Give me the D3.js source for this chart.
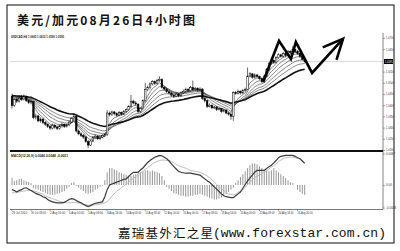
<!DOCTYPE html>
<html><head><meta charset="utf-8">
<script src="https://cdn.jsdelivr.net/npm/d3@7"></script>
<style>html,body{margin:0;padding:0;background:#fff;}svg{display:block;}</style>
</head><body>
<script>
// USD/CAD 4-hour bars: [open, high, low, close]
const candles = [
[1.0440,1.0452,1.0385,1.0398],[1.0398,1.0430,1.0392,1.0425],[1.0425,1.0436,1.0410,1.0418],[1.0418,1.0440,1.0412,1.0432],
[1.0432,1.0445,1.0420,1.0426],[1.0426,1.0448,1.0421,1.0438],[1.0438,1.0442,1.0414,1.0420],[1.0420,1.0428,1.0405,1.0412],
[1.0412,1.0425,1.0404,1.0416],[1.0416,1.0420,1.0338,1.0345],[1.0345,1.0362,1.0336,1.0352],[1.0352,1.0358,1.0324,1.0330],
[1.0330,1.0346,1.0322,1.0338],[1.0338,1.0342,1.0315,1.0322],[1.0322,1.0330,1.0308,1.0315],[1.0315,1.0320,1.0298,1.0305],
[1.0305,1.0312,1.0290,1.0298],[1.0298,1.0318,1.0292,1.0310],[1.0310,1.0315,1.0295,1.0302],[1.0302,1.0308,1.0288,1.0296],
[1.0296,1.0314,1.0290,1.0308],[1.0308,1.0322,1.0300,1.0315],[1.0315,1.0318,1.0298,1.0305],[1.0305,1.0318,1.0300,1.0312],
[1.0312,1.0330,1.0306,1.0325],[1.0325,1.0346,1.0320,1.0340],[1.0340,1.0358,1.0334,1.0350],[1.0350,1.0352,1.0278,1.0285],
[1.0285,1.0292,1.0266,1.0272],[1.0272,1.0280,1.0258,1.0265],[1.0265,1.0272,1.0250,1.0258],[1.0258,1.0262,1.0232,1.0238],
[1.0238,1.0244,1.0208,1.0222],[1.0222,1.0246,1.0218,1.0240],[1.0240,1.0260,1.0235,1.0255],[1.0255,1.0268,1.0248,1.0262],
[1.0262,1.0266,1.0244,1.0250],[1.0250,1.0264,1.0245,1.0258],[1.0258,1.0270,1.0252,1.0265],[1.0265,1.0276,1.0258,1.0270],
[1.0270,1.0378,1.0262,1.0365],[1.0365,1.0372,1.0350,1.0358],[1.0358,1.0376,1.0352,1.0370],[1.0370,1.0374,1.0355,1.0362],
[1.0362,1.0368,1.0348,1.0355],[1.0355,1.0374,1.0350,1.0368],[1.0368,1.0372,1.0354,1.0360],[1.0360,1.0378,1.0356,1.0372],
[1.0372,1.0386,1.0366,1.0380],[1.0380,1.0400,1.0375,1.0395],[1.0395,1.0446,1.0390,1.0418],[1.0418,1.0425,1.0404,1.0410],
[1.0410,1.0418,1.0398,1.0405],[1.0405,1.0408,1.0365,1.0372],[1.0372,1.0390,1.0366,1.0385],[1.0385,1.0426,1.0380,1.0420],
[1.0420,1.0500,1.0415,1.0470],[1.0470,1.0488,1.0462,1.0478],[1.0478,1.0502,1.0470,1.0495],[1.0495,1.0512,1.0488,1.0505],
[1.0505,1.0510,1.0490,1.0498],[1.0498,1.0518,1.0492,1.0510],[1.0510,1.0528,1.0504,1.0515],[1.0515,1.0520,1.0474,1.0480],
[1.0480,1.0486,1.0466,1.0472],[1.0472,1.0478,1.0454,1.0460],[1.0460,1.0468,1.0448,1.0455],[1.0455,1.0460,1.0438,1.0445],
[1.0445,1.0452,1.0432,1.0440],[1.0440,1.0458,1.0436,1.0450],[1.0450,1.0454,1.0436,1.0442],[1.0442,1.0462,1.0438,1.0455],
[1.0455,1.0470,1.0450,1.0462],[1.0462,1.0478,1.0456,1.0470],[1.0470,1.0476,1.0458,1.0465],[1.0465,1.0486,1.0460,1.0478],
[1.0478,1.0510,1.0464,1.0470],[1.0470,1.0482,1.0464,1.0475],[1.0475,1.0480,1.0460,1.0468],[1.0468,1.0480,1.0462,1.0472],
[1.0472,1.0476,1.0424,1.0430],[1.0430,1.0436,1.0412,1.0420],[1.0420,1.0424,1.0388,1.0395],[1.0395,1.0408,1.0390,1.0400],
[1.0400,1.0404,1.0382,1.0388],[1.0388,1.0398,1.0384,1.0392],[1.0392,1.0396,1.0374,1.0380],[1.0380,1.0390,1.0376,1.0385],
[1.0385,1.0388,1.0366,1.0372],[1.0372,1.0384,1.0368,1.0378],[1.0378,1.0382,1.0360,1.0365],[1.0365,1.0370,1.0354,1.0360],
[1.0360,1.0364,1.0335,1.0350],[1.0350,1.0462,1.0330,1.0456],[1.0456,1.0464,1.0446,1.0452],[1.0452,1.0470,1.0448,1.0462],
[1.0462,1.0466,1.0448,1.0455],[1.0455,1.0472,1.0450,1.0465],[1.0465,1.0478,1.0460,1.0470],[1.0470,1.0568,1.0466,1.0530],
[1.0530,1.0548,1.0524,1.0540],[1.0540,1.0544,1.0518,1.0525],[1.0525,1.0542,1.0520,1.0535],[1.0535,1.0540,1.0522,1.0528],
[1.0528,1.0532,1.0512,1.0520],[1.0520,1.0524,1.0498,1.0505],[1.0505,1.0536,1.0500,1.0530],[1.0530,1.0566,1.0526,1.0560],
[1.0560,1.0592,1.0554,1.0585],[1.0585,1.0608,1.0580,1.0600],[1.0600,1.0605,1.0584,1.0590],[1.0590,1.0618,1.0586,1.0612],
[1.0612,1.0632,1.0606,1.0625],[1.0625,1.0630,1.0612,1.0618],[1.0618,1.0638,1.0614,1.0630],[1.0630,1.0634,1.0616,1.0622],
[1.0622,1.0646,1.0618,1.0640],[1.0640,1.0645,1.0628,1.0635],[1.0635,1.0665,1.0630,1.0648],[1.0648,1.0652,1.0634,1.0640],
[1.0640,1.0646,1.0624,1.0630],[1.0630,1.0636,1.0612,1.0618],[1.0618,1.0624,1.0600,1.0605],[1.0605,1.0612,1.0590,1.0595]
];

// MACD(12,26,9): main line, signal line, histogram
const macdMain = [
-0.0010,-0.0012,-0.0015,-0.0012,-0.0010,-0.0007,-0.0006,-0.0009,-0.0012,-0.0015,-0.0018,-0.0020,-0.0022,-0.0025,-0.0027,-0.0031,
-0.0034,-0.0036,-0.0037,-0.0038,-0.0038,-0.0038,-0.0037,-0.0034,-0.0031,-0.0029,-0.0030,-0.0033,-0.0036,-0.0038,-0.0041,-0.0044,
-0.0046,-0.0044,-0.0041,-0.0039,-0.0038,-0.0037,-0.0036,-0.0025,-0.0010,0.0000,0.0002,0.0004,0.0006,0.0008,0.0010,0.0012,
0.0013,0.0018,0.0023,0.0027,0.0027,0.0027,0.0032,0.0036,0.0042,0.0048,0.0052,0.0056,0.0059,0.0061,0.0063,0.0062,
0.0059,0.0056,0.0051,0.0045,0.0039,0.0034,0.0029,0.0027,0.0026,0.0025,0.0025,0.0025,0.0024,0.0023,0.0022,0.0021,
0.0017,0.0013,0.0009,0.0006,0.0001,-0.0004,-0.0009,-0.0014,-0.0019,-0.0023,-0.0025,-0.0026,-0.0027,-0.0027,-0.0023,-0.0019,
-0.0015,-0.0007,0.0001,0.0008,0.0015,0.0021,0.0027,0.0031,0.0031,0.0031,0.0031,0.0035,0.0039,0.0042,0.0047,0.0052,
0.0058,0.0061,0.0062,0.0063,0.0063,0.0063,0.0063,0.0061,0.0058,0.0056,0.0051,0.0046
];
const macdSignal = [
-0.0017,-0.0016,-0.0015,-0.0015,-0.0014,-0.0013,-0.0012,-0.0012,-0.0012,-0.0013,-0.0014,-0.0016,-0.0018,-0.0020,-0.0023,-0.0025,
-0.0027,-0.0029,-0.0031,-0.0033,-0.0035,-0.0036,-0.0037,-0.0038,-0.0038,-0.0038,-0.0037,-0.0037,-0.0038,-0.0040,-0.0042,-0.0042,
-0.0043,-0.0043,-0.0043,-0.0042,-0.0042,-0.0041,-0.0040,-0.0038,-0.0036,-0.0030,-0.0024,-0.0018,-0.0013,-0.0010,-0.0006,-0.0002,
0.0002,0.0006,0.0010,0.0014,0.0018,0.0022,0.0025,0.0029,0.0033,0.0037,0.0041,0.0045,0.0048,0.0050,0.0052,0.0053,
0.0053,0.0052,0.0052,0.0050,0.0047,0.0044,0.0041,0.0039,0.0037,0.0036,0.0033,0.0031,0.0030,0.0029,0.0028,0.0027,
0.0025,0.0022,0.0019,0.0015,0.0011,0.0006,0.0001,-0.0004,-0.0008,-0.0012,-0.0016,-0.0019,-0.0020,-0.0021,-0.0020,-0.0016,
-0.0013,-0.0010,-0.0005,0.0001,0.0006,0.0011,0.0016,0.0019,0.0021,0.0024,0.0027,0.0030,0.0034,0.0038,0.0041,0.0045,
0.0050,0.0053,0.0056,0.0058,0.0059,0.0059,0.0059,0.0058,0.0057,0.0056,0.0052,0.0048
];
const macdHist = [
0.0015,0.0008,0.0010,0.0013,0.0013,0.0010,0.0008,0.0006,0.0004,-0.0006,-0.0008,-0.0010,-0.0013,-0.0015,-0.0017,-0.0019,
-0.0021,-0.0021,-0.0021,-0.0019,-0.0017,-0.0015,-0.0013,-0.0008,-0.0004,0.0004,0.0006,-0.0002,-0.0006,-0.0010,-0.0013,-0.0017,
-0.0019,-0.0017,-0.0015,-0.0010,-0.0008,-0.0004,-0.0002,0.0010,0.0027,0.0036,0.0036,0.0033,0.0031,0.0027,0.0025,0.0023,
0.0021,0.0019,0.0019,0.0021,0.0023,0.0025,0.0027,0.0029,0.0031,0.0031,0.0029,0.0031,0.0029,0.0027,0.0025,0.0019,
0.0010,-0.0004,-0.0008,-0.0013,-0.0017,-0.0019,-0.0021,-0.0023,-0.0023,-0.0025,-0.0025,-0.0023,-0.0023,-0.0021,-0.0021,-0.0019,
-0.0021,-0.0023,-0.0025,-0.0027,-0.0029,-0.0031,-0.0031,-0.0029,-0.0027,-0.0023,-0.0019,-0.0015,-0.0010,-0.0006,0.0004,0.0010,
0.0017,0.0023,0.0029,0.0036,0.0042,0.0046,0.0046,0.0044,0.0040,0.0036,0.0033,0.0031,0.0029,0.0031,0.0036,0.0031,
0.0027,0.0023,0.0019,0.0015,0.0010,0.0006,0.0004,0.0000,-0.0010,-0.0015,-0.0019,-0.0021
];

// time axis: one label every 8 bars
const timeLabels = ["29 Jul 2010","30 Jul 08:00","2 Aug 16:00","4 Aug 00:00","5 Aug 08:00","6 Aug 16:00",
  "10 Aug 00:00","11 Aug 08:00","12 Aug 16:00","16 Aug 00:00","17 Aug 08:00","18 Aug 16:00",
  "20 Aug 00:00","23 Aug 08:00","24 Aug 16:00","26 Aug 00:00"];
const labelStep = 8;
const priceTicks = [1.0700,1.0650,1.0550,1.0500,1.0450,1.0400,1.0350,1.0300,1.0250,1.0200];
const macdTicks = [0.0067,0.0000,-0.0048];
const macdTickText = ["0.0067","0.00","-0.0048"];
const bidPrice = 1.0595;

// moving-average ribbon (exponential), starting from the level carried into the window
const emaPeriods = [5, 8, 12, 17, 23];
const emaThickPeriod = 34;
const emaStartLevel = 1.0446;

// hand-drawn forecast zigzag: [bar index, price]
const forecastPath = [[105.5,1.0504],[112.2,1.0687],[117.2,1.0606],[119.3,1.0682],[126.1,1.0544],[139.1,1.0696]];

const titleText = "美元/加元08月26日4小时图";
const brandCn = "嘉瑞基外汇之星";
const brandUrl = "(www.forexstar.com.cn)";

const W = 400, H = 251;
const svg = d3.select("body").append("svg").attr("width", W).attr("height", H);
svg.append("rect").attr("width", W).attr("height", H).attr("fill", "#fff");

const paneL = 10, paneR = 383;
const x = d3.scaleLinear().domain([0, candles.length - 1]).range([12, 304.7]);
const yP = d3.scaleLinear().domain([1.0200, 1.0700]).range([150, 38]);
const yM = d3.scaleLinear().domain([-0.0048, 0.0067]).range([207.5, 153.5]);

// outer frame
svg.append("rect").attr("x", 7).attr("y", 5).attr("width", 387).attr("height", 238)
  .attr("fill", "none").attr("stroke", "#333").attr("stroke-width", 1.2);

// title
svg.append("text").attr("x", 17).attr("y", 24.5).attr("textLength", 178).attr("lengthAdjust", "spacing")
  .attr("font-family", "'Noto Sans CJK SC'").attr("font-weight", 700).attr("font-size", 12)
  .attr("fill", "#111").text(titleText);

const defs = svg.append("defs");
defs.append("clipPath").attr("id", "pp").append("rect").attr("x", paneL).attr("y", 33).attr("width", paneR - paneL).attr("height", 117);
defs.append("clipPath").attr("id", "mp").append("rect").attr("x", paneL).attr("y", 152).attr("width", paneR - paneL).attr("height", 57);

const pp = svg.append("g").attr("clip-path", "url(#pp)");

// bid line
pp.append("line").attr("x1", paneL).attr("x2", paneR).attr("y1", yP(bidPrice)).attr("y2", yP(bidPrice))
  .attr("stroke", "#d0d0d0").attr("stroke-width", 0.8);

// moving averages computed from closes
const closes = candles.map(d => d[3]);
function ema(vals, period, start) {
  const a = 2 / (period + 1); let e = start;
  return vals.map(v => (e = e + a * (v - e)));
}
const line = d3.line().x((d, i) => x(i)).y(d => yP(d));
emaPeriods.forEach(p => {
  pp.append("path").attr("d", line(ema(closes, p, emaStartLevel)))
    .attr("fill", "none").attr("stroke", "#555").attr("stroke-width", 0.7);
});
pp.append("path").attr("d", line(ema(closes, emaThickPeriod, emaStartLevel)))
  .attr("fill", "none").attr("stroke", "#111").attr("stroke-width", 1.6);

// candles
const cg = pp.append("g");
candles.forEach((d, i) => {
  const [o, h, l, c] = d, cx = x(i);
  cg.append("line").attr("x1", cx).attr("x2", cx).attr("y1", yP(h)).attr("y2", yP(l))
    .attr("stroke", "#000").attr("stroke-width", 0.6);
  const top = yP(Math.max(o, c)), bot = yP(Math.min(o, c));
  cg.append("rect").attr("x", cx - 0.8).attr("width", 1.6).attr("y", top).attr("height", Math.max(0.6, bot - top))
    .attr("fill", c >= o ? "#fff" : "#000").attr("stroke", "#000").attr("stroke-width", 0.5);
});

// header of price pane
const last = candles[candles.length - 1];
svg.append("text").attr("x", 11).attr("y", 37.5).attr("textLength", 53).attr("lengthAdjust", "spacingAndGlyphs")
  .attr("font-family", "'Liberation Sans'").attr("font-weight", 700).attr("font-size", 3.2).attr("fill", "#222")
  .text("USDCAD,H4  " + last.map(v => v.toFixed(4)).join(" "));

// right price axis
const axP = svg.append("g").attr("transform", `translate(${paneR},0)`)
  .call(d3.axisRight(yP).tickValues(priceTicks).tickSize(2).tickPadding(1).tickFormat(d3.format(".4f")));
axP.select(".domain").remove();
axP.selectAll("line").attr("stroke", "#555").attr("stroke-width", 0.5);
axP.selectAll("text").attr("font-family", "'Liberation Sans'").attr("font-size", 3).attr("fill", "#333")
  .attr("textLength", 8).attr("lengthAdjust", "spacingAndGlyphs");
svg.append("rect").attr("x", 384).attr("y", yP(bidPrice) - 2.5).attr("width", 9).attr("height", 5).attr("fill", "#000");
svg.append("text").attr("x", 385).attr("y", yP(bidPrice) + 1).attr("font-family", "'Liberation Sans'")
  .attr("font-size", 3).attr("fill", "#fff").attr("textLength", 7.5).attr("lengthAdjust", "spacingAndGlyphs")
  .text(bidPrice.toFixed(4));

// pane borders
svg.append("line").attr("x1", paneR).attr("x2", paneR).attr("y1", 33).attr("y2", 209.5)
  .attr("stroke", "#666").attr("stroke-width", 0.8);
svg.append("line").attr("x1", paneL).attr("x2", paneR).attr("y1", 151).attr("y2", 151)
  .attr("stroke", "#111").attr("stroke-width", 1.8);
svg.append("line").attr("x1", paneL).attr("x2", paneR).attr("y1", 209.5).attr("y2", 209.5)
  .attr("stroke", "#555").attr("stroke-width", 0.8);

// MACD pane
const mp = svg.append("g").attr("clip-path", "url(#mp)");
macdHist.forEach((v, i) => {
  mp.append("line").attr("x1", x(i)).attr("x2", x(i)).attr("y1", yM(0)).attr("y2", yM(v))
    .attr("stroke", "#8a8a8a").attr("stroke-width", 0.9);
});
const mline = d3.line().x((d, i) => x(i)).y(d => yM(d));
mp.append("path").attr("d", mline(macdSignal)).attr("fill", "none").attr("stroke", "#bdbdbd").attr("stroke-width", 1);
mp.append("path").attr("d", mline(macdMain)).attr("fill", "none").attr("stroke", "#3a3a3a").attr("stroke-width", 1.2);

svg.append("text").attr("x", 11).attr("y", 156.5).attr("textLength", 57).attr("lengthAdjust", "spacingAndGlyphs")
  .attr("font-family", "'Liberation Sans'").attr("font-weight", 700).attr("font-size", 3.2).attr("fill", "#222")
  .text("MACD(12,26,9) " + [macdMain, macdSignal, macdHist].map(a => a[a.length - 1].toFixed(4)).join(" "));

const axM = svg.append("g").attr("transform", `translate(${paneR},0)`)
  .call(d3.axisRight(yM).tickValues(macdTicks).tickSize(2).tickPadding(1).tickFormat((d, i) => macdTickText[i]));
axM.select(".domain").remove();
axM.selectAll("line").attr("stroke", "#555").attr("stroke-width", 0.5);
axM.selectAll("text").attr("font-family", "'Liberation Sans'").attr("font-size", 3).attr("fill", "#333");

// time axis
const tg = svg.append("g");
timeLabels.forEach((t, k) => {
  const xi = x(k * labelStep);
  tg.append("line").attr("x1", xi).attr("x2", xi).attr("y1", 209.5).attr("y2", 211).attr("stroke", "#555").attr("stroke-width", 0.5);
  tg.append("text").attr("x", xi).attr("y", 214).attr("font-family", "'Liberation Sans'").attr("font-size", 3)
    .attr("fill", "#333").attr("textLength", 15).attr("lengthAdjust", "spacingAndGlyphs").text(t);
});

// forecast zigzag with open arrowhead
const fz = forecastPath.map(([i, p]) => [x(i), yP(p)]);
svg.append("path").attr("d", d3.line()(fz)).attr("fill", "none").attr("stroke", "#000")
  .attr("stroke-width", 2.6).attr("stroke-linejoin", "miter").attr("stroke-miterlimit", 10);
const tip = fz[fz.length - 1], prev = fz[fz.length - 2];
const ang = Math.atan2(prev[1] - tip[1], prev[0] - tip[0]);
const armLen = 22, spread = 25 * Math.PI / 180;
const arms = [ang - spread, ang + spread].map(a => [tip[0] + armLen * Math.cos(a), tip[1] + armLen * Math.sin(a)]);
svg.append("path").attr("d", d3.line()([arms[0], tip, arms[1]])).attr("fill", "none").attr("stroke", "#000")
  .attr("stroke-width", 2.6).attr("stroke-linejoin", "miter");

// footer
svg.append("text").attr("x", 118).attr("y", 237.5).attr("textLength", 95).attr("lengthAdjust", "spacing")
  .attr("font-family", "'Noto Sans CJK SC'").attr("font-size", 12.5).attr("fill", "#111").text(brandCn);
svg.append("text").attr("x", 213).attr("y", 237).attr("textLength", 173).attr("lengthAdjust", "spacing")
  .attr("font-family", "'Liberation Mono'").attr("font-size", 13).attr("fill", "#111").text(brandUrl);
</script>
</body></html>
